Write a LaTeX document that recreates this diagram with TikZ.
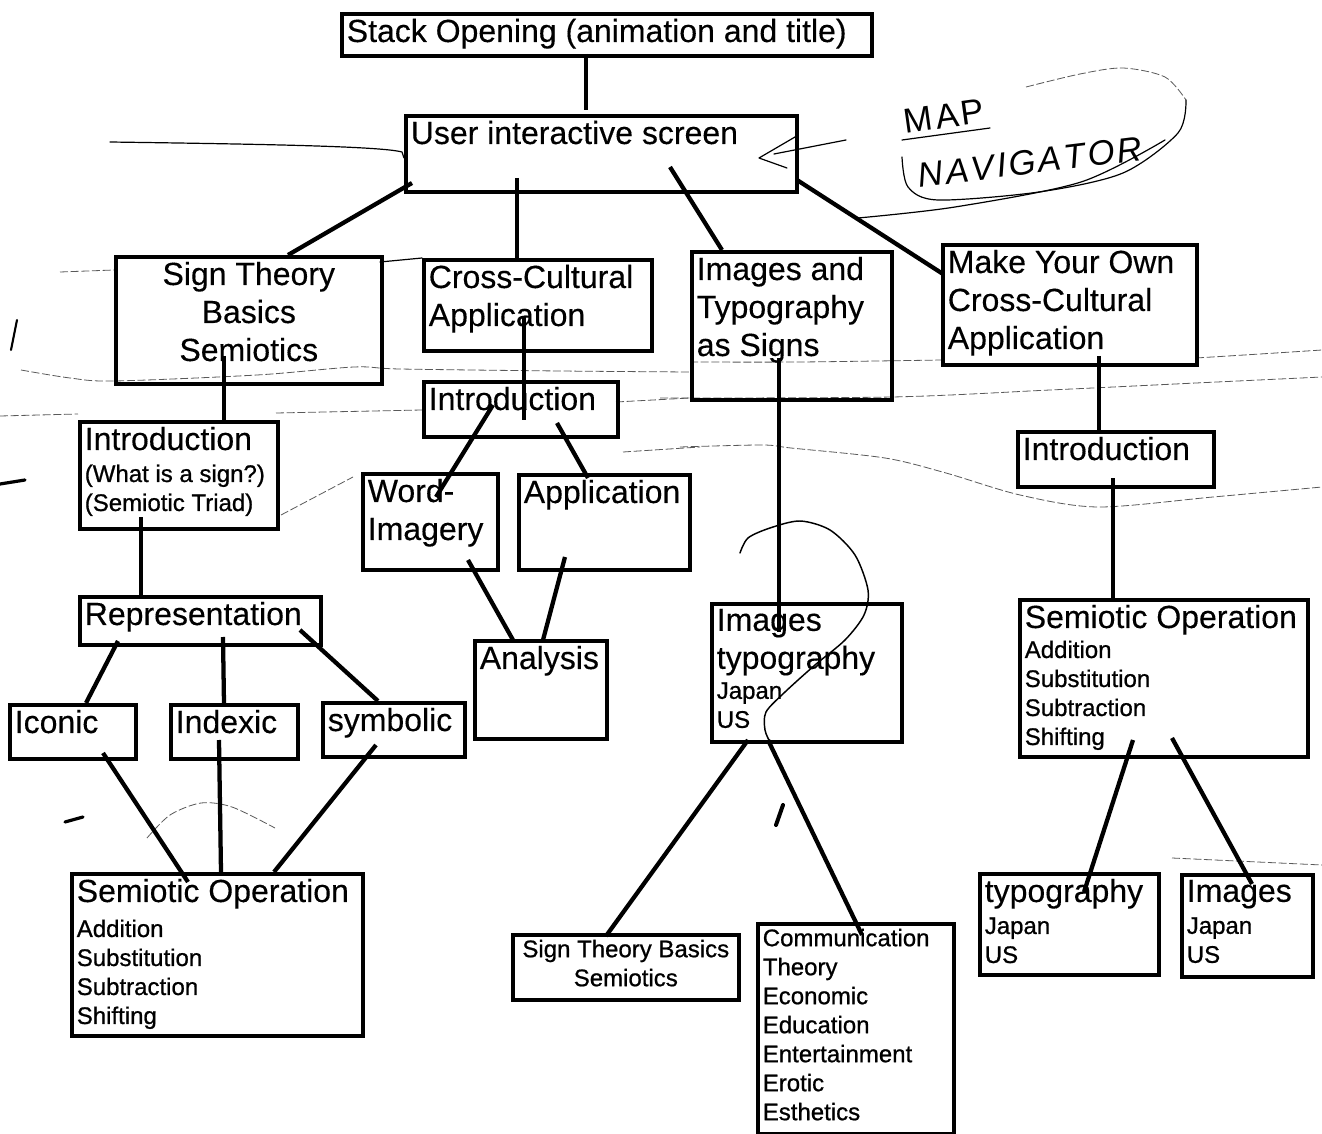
\documentclass[tikz,border=0pt]{standalone}
\usepackage{fontspec}
\setmainfont{Liberation Sans}
\newdimen\pxu \pxu=0.75pt
\newcommand\fbig{\fontsize{24}{28.5}\selectfont\addfontfeature{FakeBold=0.3}}
\newcommand\fsmall{\fontsize{18}{21.75}\selectfont\addfontfeature{FakeBold=0.8}}
% box body: outer width and height in px, text set from the top
\newcommand\inbox[3]{\parbox[c][\dimexpr#2\pxu-10\pxu\relax][t]{\dimexpr#1\pxu-10\pxu\relax}{\raggedright #3}}
\newcommand\inboxc[3]{\parbox[c][\dimexpr#2\pxu-10\pxu\relax][t]{\dimexpr#1\pxu-10\pxu\relax}{\centering #3}}
\begin{document}
\begin{tikzpicture}[x=0.75pt,y=-0.75pt,
  box/.style={draw, line width=2.7pt, inner xsep=3.75pt, inner ysep=3.75pt, anchor=north west},
  conn/.style={line width=3.2pt},
  pen/.style={line width=0.9pt, line cap=round, line join=round},
  faint/.style={line width=0.6pt, black!65, dash pattern=on 6pt off 2pt},
  stroke/.style={line width=2.4pt, line cap=round}]
\fill[white] (0,0) rectangle (1322,1134);
\useasboundingbox (0,0) rectangle (1322,1134);

% pencil guide lines and scribbles
\draw[pen] (110,142) .. controls (250,144) and (380,146) .. (402,152) -- (404,158);
\draw[faint] (60,272) -- (114,270);
\draw[pen] (380,262) -- (422,258);
\draw[faint] plot[smooth] coordinates {(21,370) (70,378) (114,381) (257,375) (354,367) (400,369) (560,371) (690,372)};
\draw[faint] plot[smooth] coordinates {(690,362) (800,362) (942,360)};
\draw[faint] plot[smooth] coordinates {(1196,358) (1260,354) (1322,350)};
\draw[faint] plot[smooth] coordinates {(660,398) (892,397) (1050,390) (1196,383) (1322,377)};
\draw[faint] (0,416) -- (78,414);
\draw[faint] (276,413) -- (422,410);
\draw[faint] (616,402) -- (690,398);
\draw[faint] (623,452) -- (700,447);
\draw[faint] (281,515) -- (353,477);
\draw[faint] plot[smooth] coordinates {(680,447) (762,445) (791,448) (885,458) (946,473) (1020,495) (1098,507) (1213,497) (1322,487)};
\draw[faint] plot[smooth] coordinates {(147,838) (170,815) (201,803) (232,807) (275,828)};
\draw[faint] (1172,858) -- (1322,865);
\draw[stroke] (0,484) -- (25,480);
\draw[stroke, line width=1.6pt] (17,320) -- (11,350);
\draw[stroke] (65,822) -- (83,817);
\draw[stroke, line width=3pt] (776,825) -- (783,805);

% navigator note
\draw[faint] plot[smooth] coordinates {(1026,87) (1080,74) (1123,68) (1165,77) (1186,100)};
\draw[pen] plot[smooth] coordinates {(1186,100) (1178,133) (1123,173) (1039,192) (938,200) (908,187) (902,157)};
\draw[pen] plot[smooth] coordinates {(858,218) (955,207) (1081,182) (1165,140)};
\node[rotate=8, inner sep=0] (mapnote) at (944,116) {\fontsize{26}{26}\selectfont M\hspace{2pt}A\hspace{2pt}P};
\draw[pen] (902,140) -- (990,128);
\node[rotate=7, inner sep=0] (navnote) at (1030,162) {\fontsize{26}{26}\selectfont\itshape N\hspace{2pt}A\hspace{2pt}V\hspace{2pt}I\hspace{2pt}G\hspace{2pt}A\hspace{2pt}T\hspace{2pt}O\hspace{2pt}R};
\draw[pen] (795,137) -- (759,158) -- (787,168);
\draw[pen] (774,154) -- (846,140);
\draw[pen, line width=1.1pt] plot[smooth] coordinates {(740,553) (748,538) (770,528) (800,521) (830,530) (855,555) (868,590) (864,615) (845,640) (815,665) (785,692) (766,712) (765,730) (770,742)};

% boxes
\node[box] (stack) at (340,12) {\inbox{530}{42}{\fbig Stack Opening (animation and title)}};
\node[box] (ui) at (404,114) {\inbox{391}{76}{\fbig User interactive screen}};
\node[box] (sign) at (114,255) {\inboxc{266}{127}{\fbig Sign Theory\\Basics\\Semiotics}};
\node[box] (cc) at (422,258) {\inbox{228}{91}{\fbig Cross-Cultural\\Application}};
\node[box] (imgsig) at (690,250) {\inbox{200}{148}{\fbig Images and\\Typography\\as Signs}};
\node[box] (myo) at (941,243) {\inbox{254}{120}{\fbig Make Your Own\\Cross-Cultural\\Application}};
\node[box] (introL) at (78,420) {\inbox{198}{107}{\fbig Introduction\par\vspace{2.25pt}\fsmall (What is a sign?)\\(Semiotic Triad)}};
\node[box] (introC) at (422,380) {\inbox{194}{55}{\fbig Introduction}};
\node[box] (word) at (361,472) {\inbox{135}{96}{\fbig Word-\\Imagery}};
\node[box] (appl) at (517,473) {\inbox{171}{95}{\fbig Application}};
\node[box] (repr) at (78,595) {\inbox{241}{48}{\fbig Representation}};
\node[box] (anal) at (473,639) {\inbox{132}{98}{\fbig Analysis}};
\node[box] (icon) at (8,703) {\inbox{126}{54}{\fbig Iconic}};
\node[box] (index) at (169,703) {\inbox{127}{54}{\fbig Indexic}};
\node[box] (symb) at (321,701) {\inbox{142}{54}{\fbig symbolic}};
\node[box] (semL) at (70,872) {\inbox{291}{162}{\fbig Semiotic Operation\par\vspace{4.5pt}\fsmall Addition\\Substitution\\Subtraction\\Shifting}};
\node[box] (imgty) at (710,602) {\inbox{190}{138}{\fbig Images\\typography\par\vspace{0.75pt}\fsmall Japan\\US}};
\node[box] (semR) at (1018,598) {\inbox{288}{157}{\fbig Semiotic Operation\par\vspace{0.75pt}\fsmall Addition\\Substitution\\Subtraction\\Shifting}};
\node[box] (introR) at (1016,430) {\inbox{196}{55}{\fbig Introduction}};
\node[box] (stb) at (511,933) {\inboxc{226}{65}{\fsmall Sign Theory Basics\\Semiotics}};
\node[box] (comm) at (756,922) {\inbox{196}{210}{\fsmall Communication\\Theory\\Economic\\Education\\Entertainment\\Erotic\\Esthetics}};
\node[box] (typo) at (978,872) {\inbox{179}{101}{\fbig typography\par\vspace{2.25pt}\fsmall Japan\\US}};
\node[box] (imgs) at (1180,873) {\inbox{131}{102}{\fbig Images\par\vspace{2.25pt}\fsmall Japan\\US}};

% connectors
\draw[conn] ([shift={(246,42)}]stack.north west) -- ([shift={(182,-4)}]ui.north west);
\draw[conn] ([shift={(8,69)}]ui.north west) -- ([shift={(174,0)}]sign.north west);
\draw[conn] ([shift={(113,64)}]ui.north west) -- ([shift={(95,0)}]cc.north west);
\draw[conn] ([shift={(266,53)}]ui.north west) -- ([shift={(32,0)}]imgsig.north west);
\draw[conn] ([shift={(393,66)}]ui.north west) -- ([shift={(2,31)}]myo.north west);
\draw[conn] ([shift={(110,101)}]sign.north west) -- ([shift={(146,0)}]introL.north west);
\draw[conn] ([shift={(102,58)}]cc.north west) -- ([shift={(102,40)}]introC.north west);
\draw[conn] ([shift={(71,25)}]introC.north west) -- ([shift={(75,25)}]word.north west);
\draw[conn] ([shift={(135,43)}]introC.north west) -- ([shift={(71,5)}]appl.north west);
\draw[conn] ([shift={(107,88)}]word.north west) -- ([shift={(40,1)}]anal.north west);
\draw[conn] ([shift={(48,84)}]appl.north west) -- ([shift={(70,1)}]anal.north west);
\draw[conn] ([shift={(63,97)}]introL.north west) -- ([shift={(63,0)}]repr.north west);
\draw[conn] ([shift={(40,46)}]repr.north west) -- ([shift={(78,0)}]icon.north west);
\draw[conn] ([shift={(145,42)}]repr.north west) -- ([shift={(55,1)}]index.north west);
\draw[conn] ([shift={(222,35)}]repr.north west) -- ([shift={(57,0)}]symb.north west);
\draw[conn] ([shift={(95,50)}]icon.north west) -- ([shift={(118,10)}]semL.north west);
\draw[conn] ([shift={(50,37)}]index.north west) -- ([shift={(151,0)}]semL.north west);
\draw[conn] ([shift={(55,44)}]symb.north west) -- ([shift={(204,0)}]semL.north west);
\draw[conn] ([shift={(89,108)}]imgsig.north west) -- ([shift={(69,30)}]imgty.north west);
\draw[conn] ([shift={(38,138)}]imgty.north west) -- ([shift={(95,3)}]stb.north west);
\draw[conn] ([shift={(58,138)}]imgty.north west) -- ([shift={(106,13)}]comm.north west);
\draw[conn] ([shift={(158,113)}]myo.north west) -- ([shift={(83,0)}]introR.north west);
\draw[conn] ([shift={(97,48)}]introR.north west) -- ([shift={(95,4)}]semR.north west);
\draw[conn] ([shift={(115,142)}]semR.north west) -- ([shift={(106,20)}]typo.north west);
\draw[conn] ([shift={(154,140)}]semR.north west) -- ([shift={(72,11)}]imgs.north west);
\end{tikzpicture}
\end{document}
